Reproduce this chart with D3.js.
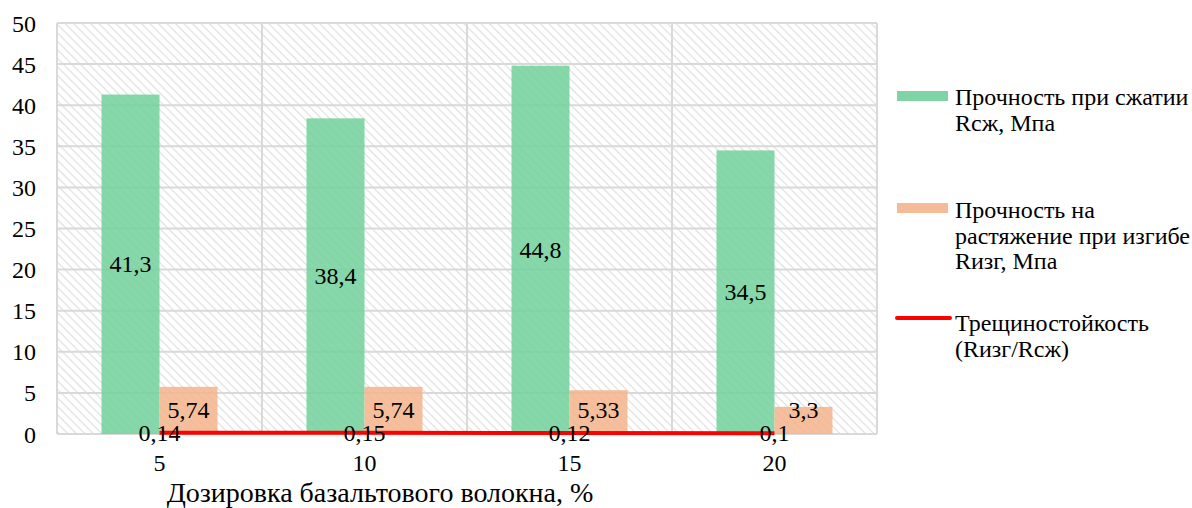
<!DOCTYPE html>
<html>
<head>
<meta charset="utf-8">
<script src="https://cdn.jsdelivr.net/npm/d3@7"></script>
<style>
  body { margin: 0; background: #fff; }
  text { font-family: "Liberation Serif", "Times New Roman", serif; fill: #000; }
</style>
</head>
<body>
<svg width="1192" height="508"></svg>
<script>
var categories = ["5", "10", "15", "20"];
var compress = [41.3, 38.4, 44.8, 34.5];
var bending = [5.74, 5.74, 5.33, 3.3];
var crack = [0.14, 0.15, 0.12, 0.1];
var yTicks = [0, 5, 10, 15, 20, 25, 30, 35, 40, 45, 50];

var svg = d3.select("svg");
var plotL = 57, plotR = 877, plotT = 23, plotB = 434;

var fmt = function(v) { return String(v).replace(".", ","); };

var x = d3.scaleBand()
	.domain(categories)
	.range([plotL, plotR]);

var y = d3.scaleLinear()
	.domain([0, 50])
	.range([plotB, plotT]);

// hatch pattern for plot area
var defs = svg.append("defs");
var pat = defs.append("pattern")
	.attr("id", "hatch")
	.attr("patternUnits", "userSpaceOnUse")
	.attr("width", 6)
	.attr("height", 6)
	.attr("patternTransform", "rotate(45)");
pat.append("line")
	.attr("x1", 0).attr("y1", 0)
	.attr("x2", 6).attr("y2", 0)
	.attr("stroke", "#e0e0e0")
	.attr("stroke-width", 2.5);

svg.append("rect")
	.attr("x", plotL).attr("y", plotT)
	.attr("width", plotR - plotL).attr("height", plotB - plotT)
	.attr("fill", "url(#hatch)");

// grid
svg.append("g").selectAll("line")
	.data(yTicks).enter()
	.append("line")
	.attr("x1", plotL).attr("x2", plotR)
	.attr("y1", function(d) { return y(d); })
	.attr("y2", function(d) { return y(d); })
	.attr("stroke", "#d9d9d9")
	.attr("stroke-width", 2);

svg.append("g").selectAll("line")
	.data(categories.concat(["end"])).enter()
	.append("line")
	.attr("x1", function(d, i) { return plotL + i * x.bandwidth(); })
	.attr("x2", function(d, i) { return plotL + i * x.bandwidth(); })
	.attr("y1", plotT).attr("y2", plotB)
	.attr("stroke", "#d9d9d9")
	.attr("stroke-width", 2);

// y axis labels
svg.append("g").selectAll("text")
	.data(yTicks).enter()
	.append("text")
	.attr("x", 36)
	.attr("y", function(d) { return y(d) + 8.5; })
	.attr("text-anchor", "end")
	.style("font-size", "24px")
	.text(function(d) { return d; });

var barW = 58;
var mid = function(i) { return x(categories[i]) + x.bandwidth() / 2; };

// bars
var bars = svg.append("g");
bars.selectAll(".g")
	.data(compress).enter()
	.append("rect")
	.attr("x", function(d, i) { return mid(i) - barW; })
	.attr("y", function(d) { return y(d); })
	.attr("width", barW)
	.attr("height", function(d) { return plotB - y(d); })
	.attr("fill", "#72d19c")
	.attr("fill-opacity", 0.86);

bars.selectAll(".o")
	.data(bending).enter()
	.append("rect")
	.attr("x", function(d, i) { return mid(i); })
	.attr("y", function(d) { return y(d); })
	.attr("width", barW)
	.attr("height", function(d) { return plotB - y(d); })
	.attr("fill", "#f3b48e")
	.attr("fill-opacity", 0.86);

// line
var line = d3.line()
	.x(function(d, i) { return mid(i); })
	.y(function(d) { return y(d); });

svg.append("path")
	.datum(crack)
	.attr("d", line)
	.attr("fill", "none")
	.attr("stroke", "#ff0000")
	.attr("stroke-width", 4);

// labels
var labels = svg.append("g").style("font-size", "24px").attr("text-anchor", "middle");
labels.selectAll(".lg")
	.data(compress).enter()
	.append("text")
	.attr("x", function(d, i) { return mid(i) - barW / 2; })
	.attr("y", function(d) { return (y(d) + plotB) / 2 + 8; })
	.text(fmt);

labels.selectAll(".lo")
	.data(bending).enter()
	.append("text")
	.attr("x", function(d, i) { return mid(i) + barW / 2; })
	.attr("y", function(d) { return Math.min((y(d) + plotB) / 2 + 8, 418); })
	.text(fmt);

labels.selectAll(".lc")
	.data(crack).enter()
	.append("text")
	.attr("x", function(d, i) { return mid(i); })
	.attr("y", function(d) { return y(d) + 8; })
	.text(fmt);

// x axis labels
svg.append("g").selectAll("text")
	.data(categories).enter()
	.append("text")
	.attr("x", function(d, i) { return mid(i); })
	.attr("y", 471)
	.attr("text-anchor", "middle")
	.style("font-size", "24px")
	.text(function(d) { return d; });

svg.append("text")
	.attr("x", 380)
	.attr("y", 502)
	.attr("text-anchor", "middle")
	.style("font-size", "28px")
	.text("Дозировка базальтового волокна, %");

// legend
var legend = svg.append("g").style("font-size", "24px");
legend.append("rect").attr("x", 897).attr("y", 91).attr("width", 51).attr("height", 10).attr("fill", "#7fd4a6");
legend.append("rect").attr("x", 897).attr("y", 203).attr("width", 51).attr("height", 10).attr("fill", "#f5bb98");
legend.append("line").attr("x1", 897).attr("x2", 950).attr("y1", 318).attr("y2", 318)
	.attr("stroke", "#ff0000").attr("stroke-width", 4).attr("stroke-linecap", "round");

var legendText = [
	{ y: 105, lines: ["Прочность при сжатии", "Rсж, Мпа"] },
	{ y: 218, lines: ["Прочность на", "растяжение при изгибе", "Rизг, Мпа"] },
	{ y: 331, lines: ["Трещиностойкость", "(Rизг/Rсж)"] }
];
legendText.forEach(function(item) {
	var t = legend.append("text").attr("x", 955).attr("y", item.y);
	item.lines.forEach(function(l, i) {
		t.append("tspan").attr("x", 955).attr("dy", i === 0 ? 0 : 25.5).text(l);
	});
});
</script>
</body>
</html>
